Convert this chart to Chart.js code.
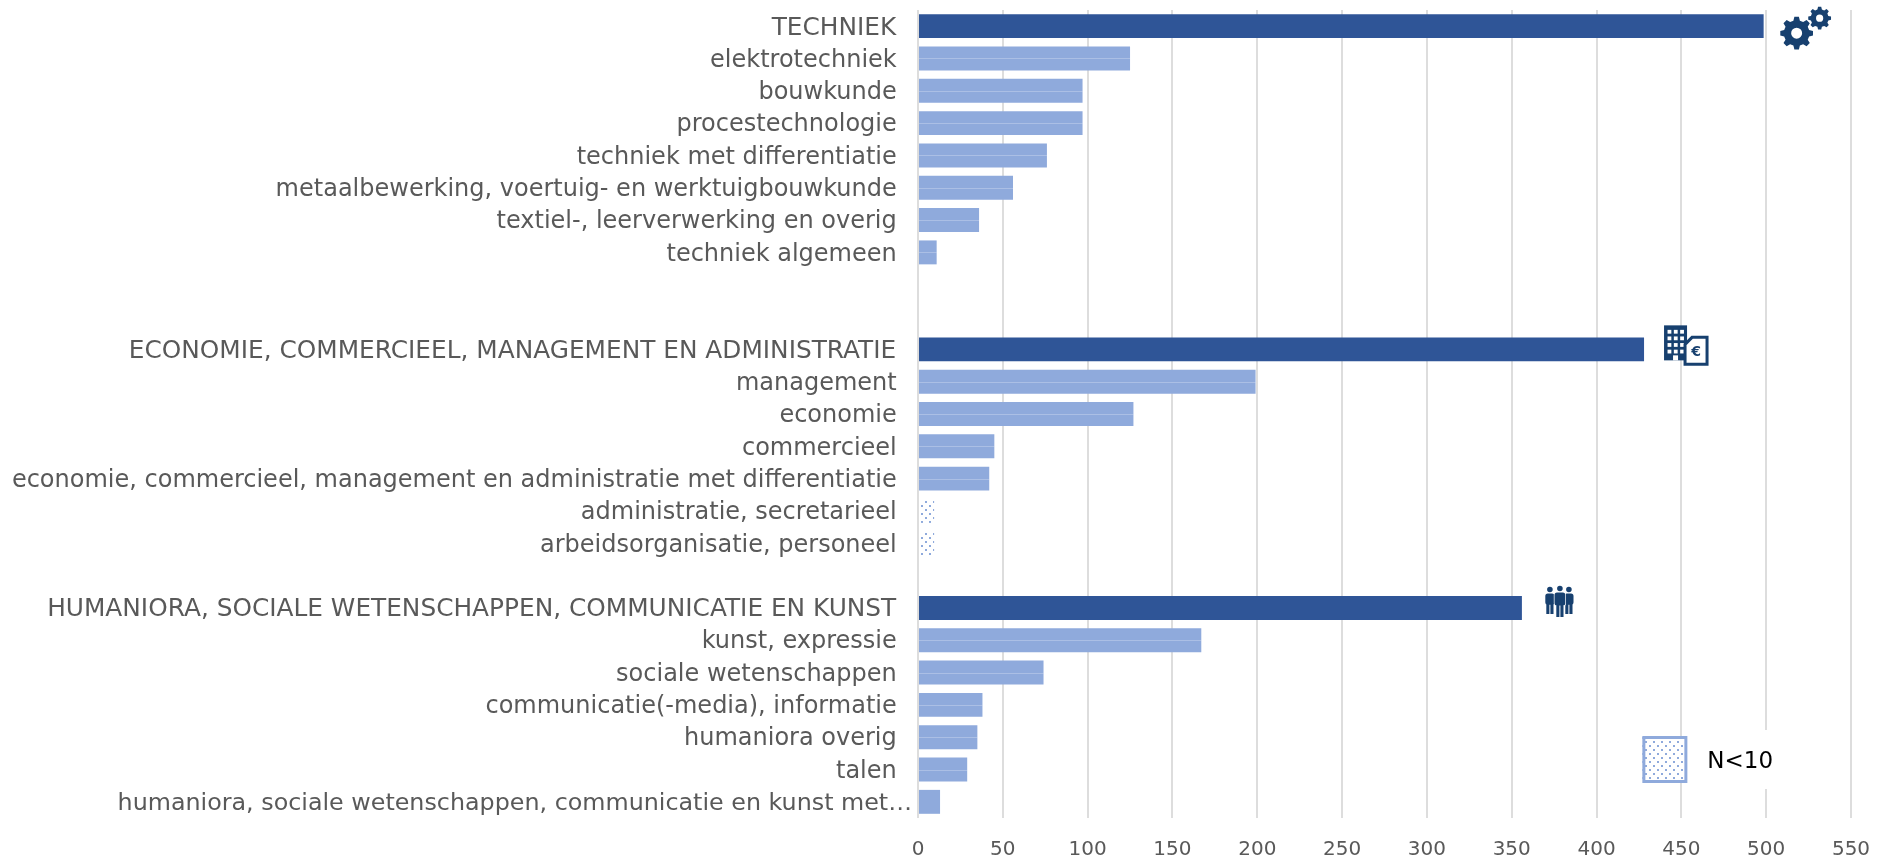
<!DOCTYPE html>
<html>
<head>
<meta charset="utf-8">
<title>Opleidingen</title>
<script src="https://cdn.jsdelivr.net/npm/chart.js@4"></script>
<style>
html, body { margin: 0; padding: 0; background: #fff; }
canvas { display: block; }
</style>
</head>
<body>
<canvas id="opleidingen_chart" width="1889" height="861"></canvas>
<script>
// Labels (trailing spaces keep the gap to the axis, the cut-off one has none)
var labels_opleiding = [
    'TECHNIEK  ', 'elektrotechniek  ', 'bouwkunde  ', 'procestechnologie  ',
    'techniek met differentiatie  ', 'metaalbewerking, voertuig- en werktuigbouwkunde  ',
    'textiel-, leerverwerking en overig  ', 'techniek algemeen  ', '', '',
    'ECONOMIE, COMMERCIEEL, MANAGEMENT EN ADMINISTRATIE  ', 'management  ', 'economie  ',
    'commercieel  ', 'economie, commercieel, management en administratie met differentiatie  ',
    'administratie, secretarieel  ', 'arbeidsorganisatie, personeel  ', '',
    'HUMANIORA, SOCIALE WETENSCHAPPEN, COMMUNICATIE EN KUNST  ', 'kunst, expressie  ',
    'sociale wetenschappen  ', 'communicatie(-media), informatie  ', 'humaniora overig  ',
    'talen  ', 'humaniora, sociale wetenschappen, communicatie en kunst met…'
];

// Values
var values_opleiding = [
    498.5, 125, 97, 97, 76, 56, 36, 11, null, null,
    428, 199, 127, 45, 42, 9.5, 9.5, null,
    356, 167, 74, 38, 35, 29, 13
];

// Rows of the main groups and rows with N<10
var group_rows = [0, 10, 18];
var small_rows = [15, 16];
var x_ticks = [0, 50, 100, 150, 200, 250, 300, 350, 400, 450, 500, 550];
var legend_text = 'N<10';

const color_dark = '#2F5597';
const color_light = '#8FAADC';
const color_icon = '#17406F';
const color_grid = '#DDDDDD';
const color_text = '#595959';
const font_family = '"DejaVu Sans", Verdana, sans-serif';

// Dotted fill for the N<10 bars
function dot_pattern() {
    var tile = document.createElement('canvas');
    tile.width = 8;
    tile.height = 8;
    var c = tile.getContext('2d');
    c.fillStyle = color_light;
    c.fillRect(1, 1, 2, 2);
    c.fillRect(5, 5, 2, 2);
    return document.getElementById('opleidingen_chart').getContext('2d').createPattern(tile, 'repeat');
}
var dots = dot_pattern();

var bar_colors = labels_opleiding.map(function (l, i) {
    if (group_rows.indexOf(i) >= 0) return color_dark;
    if (small_rows.indexOf(i) >= 0) return dots;
    return color_light;
});

function draw_gear(c, x, y, r, hole, teeth) {
    c.beginPath();
    for (var i = 0; i < teeth; i++) {
        var a = i * 2 * Math.PI / teeth - Math.PI / 2;
        var w = Math.PI / teeth * 0.5;
        c.lineTo(x + r * 0.78 * Math.cos(a - w * 1.3), y + r * 0.78 * Math.sin(a - w * 1.3));
        c.lineTo(x + r * Math.cos(a - w * 0.7), y + r * Math.sin(a - w * 0.7));
        c.lineTo(x + r * Math.cos(a + w * 0.7), y + r * Math.sin(a + w * 0.7));
        c.lineTo(x + r * 0.78 * Math.cos(a + w * 1.3), y + r * 0.78 * Math.sin(a + w * 1.3));
    }
    c.closePath();
    c.arc(x, y, hole, 0, 2 * Math.PI, true);
    c.fillStyle = color_icon;
    c.fill();
}

function draw_building(c, x, y) {
    c.fillStyle = color_icon;
    c.fillRect(x, y, 23, 35);
    c.fillStyle = '#fff';
    for (var r = 0; r < 4; r++) {
        for (var k = 0; k < 3; k++) {
            c.fillRect(x + 3.5 + k * 6.3, y + 4.5 + r * 6.6, 3.8, 3.8);
        }
    }
    c.fillRect(x + 9, y + 30, 5, 5);
    // Document with euro sign
    c.beginPath();
    c.moveTo(x + 28, y + 12);
    c.lineTo(x + 43, y + 12);
    c.lineTo(x + 43, y + 39);
    c.lineTo(x + 21, y + 39);
    c.lineTo(x + 21, y + 19);
    c.closePath();
    c.fillStyle = '#fff';
    c.fill();
    c.lineWidth = 3;
    c.strokeStyle = color_icon;
    c.stroke();
    c.fillStyle = color_icon;
    c.font = 'bold 14px ' + font_family;
    c.textAlign = 'center';
    c.textBaseline = 'middle';
    c.fillText('€', x + 32, y + 27);
}

// y is the top of the head, w the half width of the shoulders
function draw_person(c, x, y, h, w, outline) {
    c.beginPath();
    c.arc(x, y + 2.6, 2.8, 0, 2 * Math.PI);
    c.moveTo(x - w, y + 9);
    c.roundRect(x - w, y + 6.5, 2 * w, h * 0.42, 2.5);
    c.rect(x - 3.6, y + 12, 3.1, h - 12);
    c.rect(x + 0.5, y + 12, 3.1, h - 12);
    if (outline) {
        c.strokeStyle = '#fff';
        c.lineWidth = 1.4;
        c.stroke();
    }
    c.fillStyle = color_icon;
    c.fill();
}

var extras_plugin = {
    id: 'extras',
    afterDatasetsDraw: function (chart) {
        var c = chart.ctx;
        var bars = chart.getDatasetMeta(0).data;
        c.save();

        // Faint line through the light bars
        c.strokeStyle = 'rgba(255,255,255,0.25)';
        c.lineWidth = 1;
        bars.forEach(function (b, i) {
            if (bar_colors[i] !== color_light || i == bars.length - 1) return;
            c.beginPath();
            c.moveTo(b.base, Math.round(b.y) + 0.5);
            c.lineTo(b.x, Math.round(b.y) + 0.5);
            c.stroke();
        });

        // Icons next to the main bars
        var b0 = bars[group_rows[0]], b1 = bars[group_rows[1]], b2 = bars[group_rows[2]];
        draw_gear(c, b0.x + 33, b0.y + 7, 16.5, 5.5, 8);
        draw_gear(c, b0.x + 56, b0.y - 8, 11.5, 3.6, 8);
        draw_building(c, b1.x + 20, b1.y - 24);
        draw_person(c, b2.x + 28, b2.y - 21, 27, 4.6, false);
        draw_person(c, b2.x + 47, b2.y - 21, 27, 4.6, false);
        draw_person(c, b2.x + 38, b2.y - 22, 31, 5.4, true);

        // Legend box
        var y_scale = chart.scales.y, x_scale = chart.scales.x;
        var lx = x_scale.getPixelForValue(450) - 39, ly = y_scale.bottom - 82;
        c.fillStyle = '#fff';
        c.fillRect(lx + 45, ly - 6, 95, 59);
        c.fillRect(lx, ly, 45, 47);
        c.fillStyle = dots;
        c.fillRect(lx, ly, 45, 47);
        c.strokeStyle = color_light;
        c.lineWidth = 3;
        c.strokeRect(lx + 1.5, ly + 1.5, 42, 44);
        c.fillStyle = '#000';
        c.font = '23px ' + font_family;
        c.textAlign = 'left';
        c.textBaseline = 'middle';
        c.fillText(legend_text, lx + 65, ly + 26);
        c.restore();
    }
};

// Chart
var ctx = document.getElementById('opleidingen_chart');
var opleidingen_chart = new Chart(ctx, {
    type: 'bar',
    data: {
        labels: labels_opleiding,
        datasets: [{
            data: values_opleiding,
            backgroundColor: bar_colors,
            borderWidth: 0,
            categoryPercentage: 1,
            barPercentage: 0.74
        }]
    },
    plugins: [extras_plugin],
    options: {
        indexAxis: 'y',
        responsive: false,
        animation: false,
        layout: { padding: { top: 10, right: 38, left: 0, bottom: 0 } },
        plugins: { legend: { display: false }, tooltip: { enabled: false } },
        scales: {
            x: {
                min: 0,
                max: 550,
                afterBuildTicks: function (scale) {
                    scale.ticks = x_ticks.map(function (v) { return { value: v }; });
                },
                afterFit: function (scale) {
                    scale.height = 43;
                    scale.paddingLeft = 0;
                    scale.paddingRight = 0;
                },
                grid: { color: color_grid, lineWidth: 2, drawTicks: false },
                border: { display: false },
                ticks: {
                    color: color_text,
                    padding: 20,
                    maxRotation: 0,
                    font: { family: font_family, size: 20 }
                }
            },
            y: {
                afterFit: function (scale) {
                    scale.width = 918;
                    scale.paddingTop = 0;
                    scale.paddingBottom = 0;
                    // Text sits a little under the bar centre, as in the original
                    if (!scale.draw_labels_org) {
                        scale.draw_labels_org = scale.drawLabels;
                        scale.drawLabels = function (area) {
                            this.ctx.save();
                            this.ctx.translate(-1, 2);
                            this.draw_labels_org(area);
                            this.ctx.restore();
                        };
                    }
                },
                grid: { display: false, drawTicks: false },
                border: { display: false },
                ticks: {
                    color: color_text,
                    padding: 5,
                    autoSkip: false,
                    font: function (context) {
                        // DejaVu capitals are narrower than in the original
                        var big = group_rows.indexOf(context.index) >= 0;
                        var last = context.index == labels_opleiding.length - 1;
                        return { family: font_family, size: big ? 24.8 : (last ? 23.8 : 24) };
                    }
                }
            }
        }
    }
});
</script>
</body>
</html>
